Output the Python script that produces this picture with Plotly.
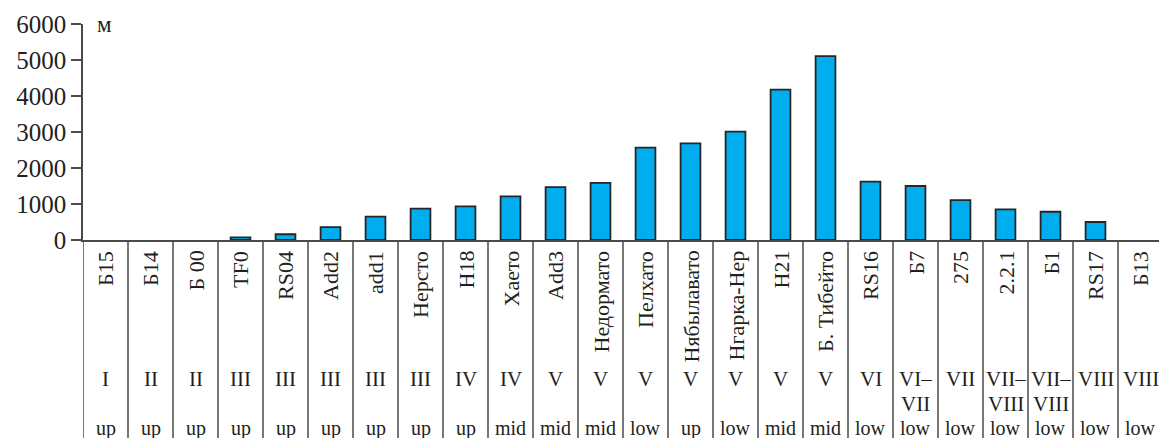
import plotly.graph_objects as go

names = ["Б15", "Б14", "Б 00", "TF0", "RS04", "Add2", "add1", "Нерсто", "H18", "Хаето",
         "Add3", "Недормато", "Пелхато", "Нябылавато", "Нгарка-Нер", "H21", "Б. Тибейто",
         "RS16", "Б7", "275", "2.2.1", "Б1", "RS17", "Б13"]
heights = [0, 0, 0, 75, 160, 360, 650, 870, 935, 1210, 1470, 1585, 2565, 2685, 3010,
           4175, 5110, 1620, 1500, 1110, 850, 785, 500, 0]
stages = ["I", "II", "II", "III", "III", "III", "III", "III", "IV", "IV", "V", "V", "V",
          "V", "V", "V", "V", "VI", "VI–VII", "VII", "VII–VIII", "VII–VIII", "VIII", "VIII"]
zones = ["up", "up", "up", "up", "up", "up", "up", "up", "up", "mid", "mid", "mid", "low",
         "up", "low", "mid", "mid", "low", "low", "low", "low", "low", "low", "low"]
y_ticks = [0, 1000, 2000, 3000, 4000, 5000, 6000]
unit_label = "м"

W, H = 1159, 438
ML, MT, MB = 83, 24, 198
plot_h = H - MT - MB  # 216
FONT = "Liberation Serif"
TXT = "#231f20"
LINE = "#4a4a4a"
n = len(names)
x = list(range(n))


def py2paper(py):
    return (H - MB - py) / plot_h


fig = go.Figure()
fig.add_trace(go.Bar(
    x=x, y=heights, width=0.44,
    marker=dict(color="#00AEEF",
                line=dict(color="#262626", width=[1.8 if v > 0 else 0 for v in heights])),
    showlegend=False, hoverinfo="skip",
))

shapes = []
for i in range(n + 1):
    shapes.append(dict(type="line", xref="x", yref="paper",
                       x0=i - 0.5, x1=i - 0.5, y0=0, y1=py2paper(H + 5),
                       line=dict(color=LINE, width=1.5)))

annotations = []
for i in range(n):
    annotations.append(dict(x=i, y=py2paper(249), xref="x", yref="paper",
                            text=names[i], textangle=-90, showarrow=False,
                            xanchor="center", yanchor="top",
                            font=dict(family=FONT, size=22, color=TXT)))
    s = stages[i]
    if "–" in s:
        a, b = s.split("–")
        lines = [a + "–", b]
    else:
        lines = [s]
    for k, t in enumerate(lines):
        annotations.append(dict(x=i, y=py2paper(379 + 25 * k), xref="x", yref="paper",
                                text=t, showarrow=False, xanchor="center", yanchor="middle",
                                font=dict(family=FONT, size=21, color=TXT)))
    annotations.append(dict(x=i, y=py2paper(428), xref="x", yref="paper",
                            text=zones[i], showarrow=False, xanchor="center", yanchor="middle",
                            font=dict(family=FONT, size=20, color=TXT)))

annotations.append(dict(x=-0.02, y=1.0, xref="x", yref="paper", text=unit_label,
                        showarrow=False, xanchor="center", yanchor="middle",
                        font=dict(family=FONT, size=23, color=TXT)))

fig.update_layout(
    width=W, height=H, autosize=False,
    margin=dict(l=ML, r=0, t=MT, b=MB, pad=0),
    paper_bgcolor="white", plot_bgcolor="white",
    shapes=shapes, annotations=annotations,
    xaxis=dict(range=[-0.5, -0.5 + (W - ML) / 45.0], showticklabels=False, ticks="",
               showgrid=False, zeroline=False, showline=True, linecolor=LINE, linewidth=1.5,
               fixedrange=True),
    yaxis=dict(range=[0, 6000], tickvals=y_ticks, ticktext=[str(v) for v in y_ticks],
               ticks="outside", ticklen=10, tickwidth=1.5, tickcolor=LINE,
               showgrid=False, zeroline=False, showline=True, linecolor=LINE, linewidth=1.5,
               tickfont=dict(family=FONT, size=25, color=TXT), fixedrange=True),
    font=dict(family=FONT, color=TXT),
)

fig.write_html("out.html", config={"displayModeBar": False})
